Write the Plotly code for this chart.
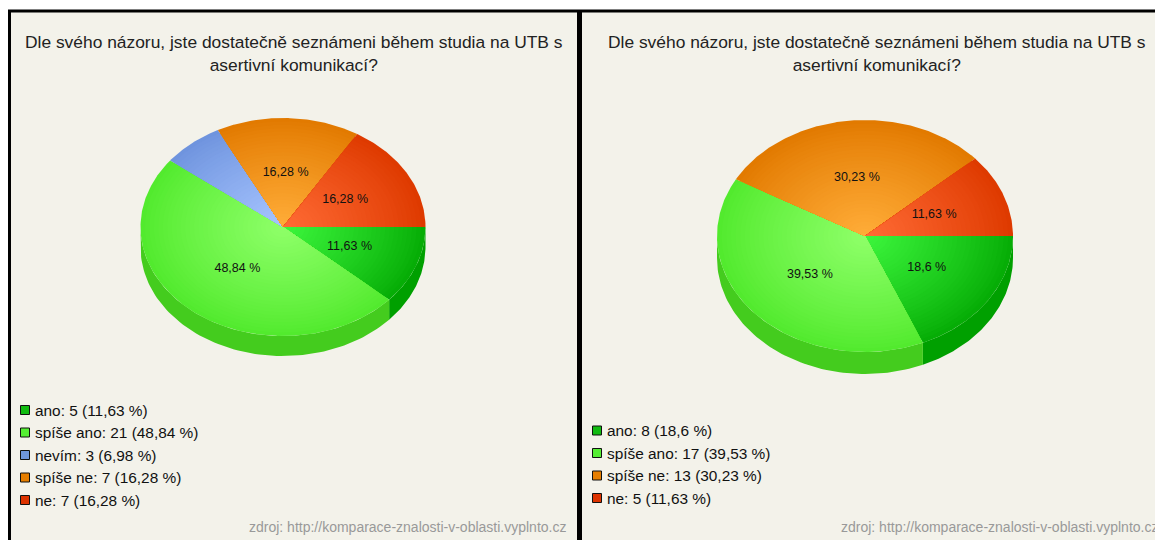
import numpy as np
import plotly.graph_objects as go

# ---------------- data ----------------
categories_left = ["ano", "spíše ano", "nevím", "spíše ne", "ne"]
counts_left = [5, 21, 3, 7, 7]
categories_right = ["ano", "spíše ano", "spíše ne", "ne"]
counts_right = [8, 17, 13, 5]
title_lines = ["Dle svého názoru, jste dostatečně seznámeni během studia na UTB s",
               "asertivní komunikací?"]
source_text = "zdroj: http://komparace-znalosti-v-oblasti.vyplnto.cz"

# ---------------- styles ----------------
STYLE = {
    "ano":       dict(center="#3cf53c", rim="#06ad06", side="#00a000", legend="#11bb11"),
    "spíše ano": dict(center="#8eff68", rim="#52ea2e", side="#44cc1e", legend="#55ee33"),
    "nevím":     dict(center="#a6c4ff", rim="#6f94de", side="#5a7ec8", legend="#6f96dd"),
    "spíše ne":  dict(center="#ffac38", rim="#e27a00", side="#c86a00", legend="#e67e00"),
    "ne":        dict(center="#ff6a34", rim="#de3a00", side="#c03000", legend="#dd3300"),
}
BG = "#f3f2ea"
FONT = "Liberation Sans, Arial, sans-serif"
PAGE_OFFSET = 8  # the html body margin; axis ranges compensate so data units == screen pixels

PANELS = [
    dict(cats=categories_left, vals=counts_left, x0=10, x1=580, cx=283, cy=227, a=142.5, b=109,
         depth=20, title_x=294, legend_x=25, legend_bottom=500, source_right=568),
    dict(cats=categories_right, vals=counts_right, x0=580, x1=1180, cx=865, cy=236, a=148, b=116,
         depth=22, title_x=877, legend_x=597, legend_bottom=498, source_right=1160),
]


def hex2rgb(h):
    h = h.lstrip("#")
    return np.array([int(h[i:i + 2], 16) for i in (0, 2, 4)], dtype=float)


def mix(c1, c2, t):
    c = hex2rgb(c1) * (1 - t) + hex2rgb(c2) * t
    return "rgb(%d,%d,%d)" % tuple(np.round(c).astype(int))


def fmt_pct(p):
    s = f"{round(p, 2):.2f}".rstrip("0").rstrip(".")
    return s.replace(".", ",") + " %"


fig = go.Figure()
shapes = []
annotations = []

for P in PANELS:
    shapes.append(dict(type="rect", xref="x", yref="y", x0=P["x0"], x1=P["x1"], y0=11, y1=560,
                       fillcolor=BG, line_width=0, layer="below"))

for P in PANELS:
    vals = np.array(P["vals"], dtype=float)
    total = vals.sum()
    pcts = vals / total * 100
    ends = np.cumsum(vals) / total * 360.0
    starts = np.concatenate([[0.0], ends[:-1]])
    cx, cy, a, b, d = P["cx"], P["cy"], P["a"], P["b"], P["depth"]

    # side walls (front half: angles 0..180, screen y downward)
    for cat, t0, t1 in zip(P["cats"], starts, ends):
        s0, s1 = max(t0, 0), min(t1, 180)
        if s1 <= s0:
            continue
        t = np.radians(np.linspace(s0, s1, 80))
        xs = np.concatenate([cx + a * np.cos(t), (cx + a * np.cos(t))[::-1]])
        ys = np.concatenate([cy + b * np.sin(t), (cy + d + b * np.sin(t))[::-1]])
        fig.add_trace(go.Scatter(x=xs, y=ys, fill="toself", mode="lines", line_width=0,
                                 fillcolor=STYLE[cat]["side"], hoverinfo="skip", showlegend=False))

    # top faces with finely stepped radial shading
    steps = 32
    for cat, t0, t1 in zip(P["cats"], starts, ends):
        t = np.radians(np.linspace(t0, t1, max(int((t1 - t0) * 1.5), 8)))
        for i in range(steps):
            k = 1 - i / steps
            xs = np.concatenate([[cx], cx + k * a * np.cos(t), [cx]])
            ys = np.concatenate([[cy], cy + k * b * np.sin(t), [cy]])
            col = mix(STYLE[cat]["rim"], STYLE[cat]["center"], (i / (steps - 1)) ** 0.9)
            fig.add_trace(go.Scatter(x=xs, y=ys, fill="toself", mode="lines", line_width=0,
                                     fillcolor=col, hoverinfo="skip", showlegend=False))

    # percentage labels
    lx, ly, lt = [], [], []
    for p, t0, t1 in zip(pcts, starts, ends):
        if p < 8:
            continue
        m = np.radians((t0 + t1) / 2)
        lx.append(cx + 0.5 * a * np.cos(m))
        ly.append(cy + 0.5 * b * np.sin(m))
        lt.append(fmt_pct(p))
    fig.add_trace(go.Scatter(x=lx, y=ly, mode="text", text=lt, textposition="middle center",
                             textfont=dict(family=FONT, size=12.5, color="#111111"),
                             hoverinfo="skip", showlegend=False))

    # legend
    n = len(P["cats"])
    ypos = [P["legend_bottom"] - (n - 1 - i) * 22.5 for i in range(n)]
    fig.add_trace(go.Scatter(x=[P["legend_x"]] * n, y=ypos, mode="markers",
                             marker=dict(symbol="square", size=9,
                                         color=[STYLE[c]["legend"] for c in P["cats"]],
                                         line=dict(color="#111111", width=1)),
                             hoverinfo="skip", showlegend=False))
    for c, v, p, y in zip(P["cats"], vals, pcts, ypos):
        annotations.append(dict(x=P["legend_x"] + 8, y=y, xref="x", yref="y", showarrow=False,
                                xanchor="left", yanchor="middle",
                                text=f"{c}: {int(v)} ({fmt_pct(p)})",
                                font=dict(family=FONT, size=15.4, color="#111111")))

    # title
    annotations.append(dict(x=P["title_x"], y=53, xref="x", yref="y", showarrow=False,
                            xanchor="center", yanchor="middle",
                            text="<br>".join(title_lines),
                            font=dict(family=FONT, size=17.4, color="#222222")))
    # source
    annotations.append(dict(x=P["source_right"], y=527, xref="x", yref="y", showarrow=False,
                            xanchor="right", yanchor="middle", text=source_text,
                            font=dict(family=FONT, size=14, color="#999999")))

# borders
shapes += [
    dict(type="line", xref="x", yref="y", x0=8, x1=1180, y0=11, y1=11, line=dict(color="#000", width=3)),
    dict(type="line", xref="x", yref="y", x0=9.5, x1=9.5, y0=10, y1=560, line=dict(color="#000", width=3)),
    dict(type="line", xref="x", yref="y", x0=579.5, x1=579.5, y0=10, y1=560, line=dict(color="#000", width=5)),
]

# figure sized to fit inside the window next to the page margin
W, H = 1163 - PAGE_OFFSET, 540 - PAGE_OFFSET
fig.update_layout(
    width=W, height=H, margin=dict(l=0, r=0, t=0, b=0),
    paper_bgcolor="white", plot_bgcolor="rgba(0,0,0,0)",
    xaxis=dict(range=[PAGE_OFFSET, W + PAGE_OFFSET], visible=False, fixedrange=True),
    yaxis=dict(range=[H + PAGE_OFFSET, PAGE_OFFSET], visible=False, fixedrange=True),
    shapes=shapes, annotations=annotations, showlegend=False,
)
fig.write_html("out.html")
